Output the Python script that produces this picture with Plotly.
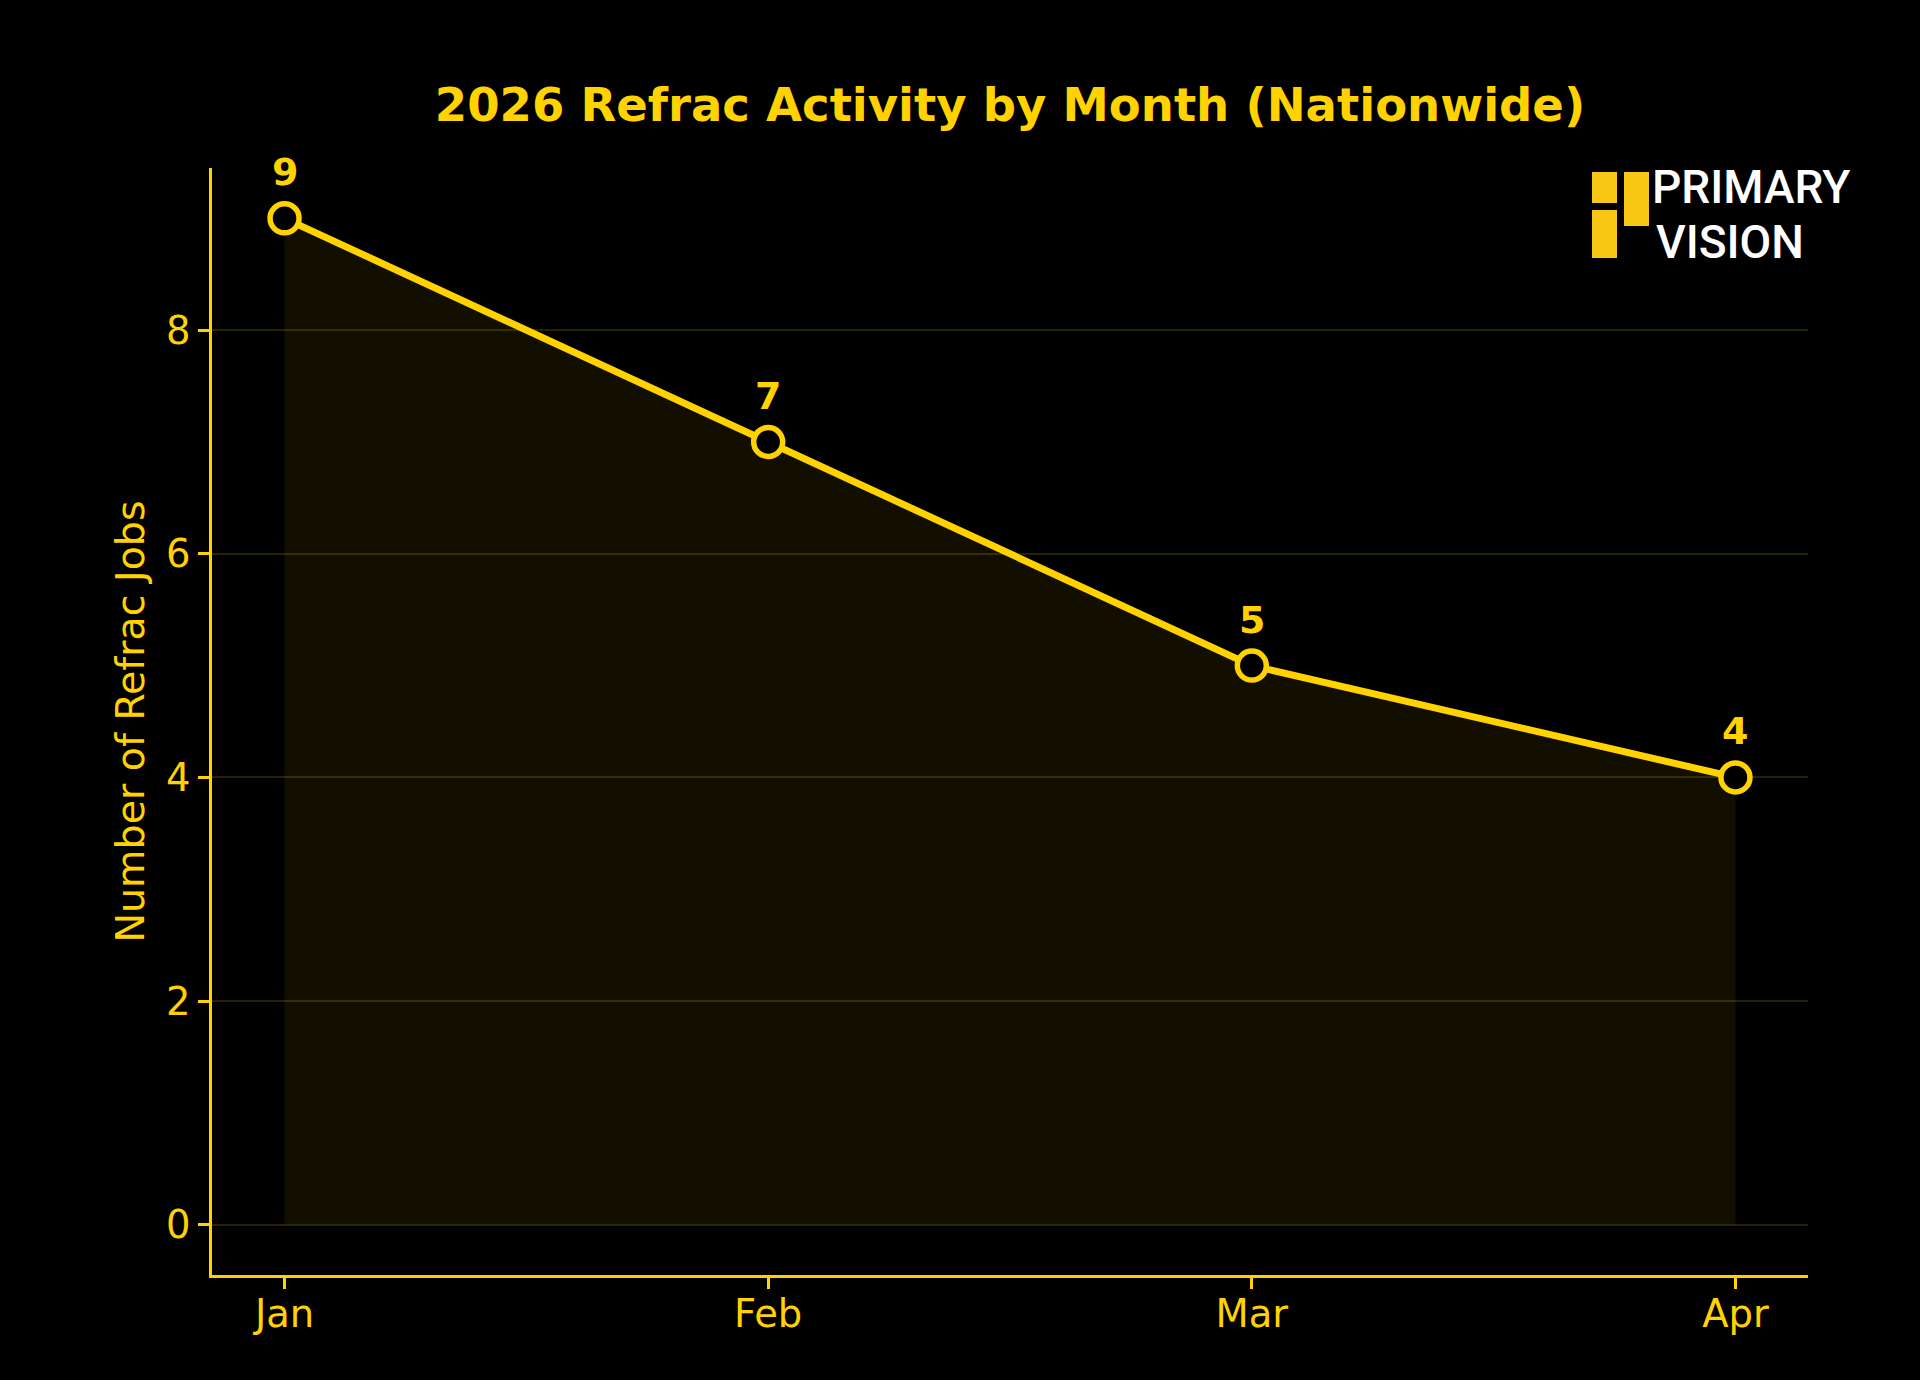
import plotly.graph_objects as go

# refrac jobs per month, 2026
months = ["Jan", "Feb", "Mar", "Apr"]
jobs = [9, 7, 5, 4]
y_ticks = [0, 2, 4, 6, 8]

YELLOW = "#FFD200"
FONT = "DejaVu Sans"

W, H = 1920, 1380
L, R, T, B = 212, 112, 168, 105


def px_x(x):
    return (x - L) / (W - L - R)


def px_y(y):
    return (H - B - y) / (H - T - B)


fig = go.Figure()
fig.add_trace(
    go.Scatter(
        x=months,
        y=jobs,
        mode="lines+markers",
        fill="tozeroy",
        fillcolor="rgba(255,210,0,0.07)",
        line=dict(color=YELLOW, width=7),
        marker=dict(size=29, color="black", line=dict(color=YELLOW, width=5.5)),
        hoverinfo="x+y",
        showlegend=False,
    )
)

# value labels above each point
for m, v in zip(months, jobs):
    fig.add_annotation(
        x=m, y=v, text=f"<b>{v}</b>", showarrow=False,
        yshift=46, yanchor="middle",
        font=dict(family=FONT, size=38, color=YELLOW),
    )

# logo, top right
logo_rects = [
    (1592, 172, 1617, 203),
    (1592, 210, 1617, 258),
    (1624, 172, 1649, 226),
]
for x0, y0, x1, y1 in logo_rects:
    fig.add_shape(
        type="rect", xref="paper", yref="paper",
        x0=px_x(x0), x1=px_x(x1), y0=px_y(y1), y1=px_y(y0),
        fillcolor="#F8C614", line=dict(width=0), layer="above",
    )
for txt, xx, yy in [("PRIMARY", 1651, 187), ("VISION", 1655, 242)]:
    fig.add_annotation(
        xref="paper", yref="paper", x=px_x(xx), y=px_y(yy),
        xanchor="left", yanchor="middle", text=txt, showarrow=False,
        borderpad=0,
        font=dict(family="Roboto", size=46, color="white", weight=500),
    )

fig.update_layout(
    width=W,
    height=H,
    paper_bgcolor="black",
    plot_bgcolor="black",
    margin=dict(l=L, r=R, t=T, b=B),
    title=dict(
        text="<b>2026 Refrac Activity by Month (Nationwide)</b>",
        x=px_x(1010), xref="paper", xanchor="center",
        y=1 - 105 / H, yanchor="middle",
        font=dict(family=FONT, size=46.5, color=YELLOW),
    ),
    font=dict(family=FONT, color=YELLOW),
)
fig.update_xaxes(
    range=[-0.15, 3.15],
    showline=True, linecolor=YELLOW, linewidth=2.5,
    ticks="outside", ticklen=11, tickwidth=2.5, tickcolor=YELLOW,
    ticklabelstandoff=-8,
    showgrid=False, zeroline=False,
    tickfont=dict(family=FONT, size=38.5, color=YELLOW),
)
fig.update_yaxes(
    range=[-0.45, 9.45],
    tickvals=y_ticks,
    showline=True, linecolor=YELLOW, linewidth=2.5,
    ticks="outside", ticklen=11, tickwidth=2.5, tickcolor=YELLOW,
    showgrid=True, gridcolor="rgba(255,210,0,0.16)", gridwidth=1.5,
    zeroline=False,
    tickfont=dict(family=FONT, size=38.5, color=YELLOW),
    title=dict(text="Number of Refrac Jobs", standoff=10,
               font=dict(family=FONT, size=39.5, color=YELLOW)),
)

fig.write_html(
    "out.html",
    config={"displayModeBar": False},
    post_script="document.body.style.margin='0';document.body.style.background='black';",
)
